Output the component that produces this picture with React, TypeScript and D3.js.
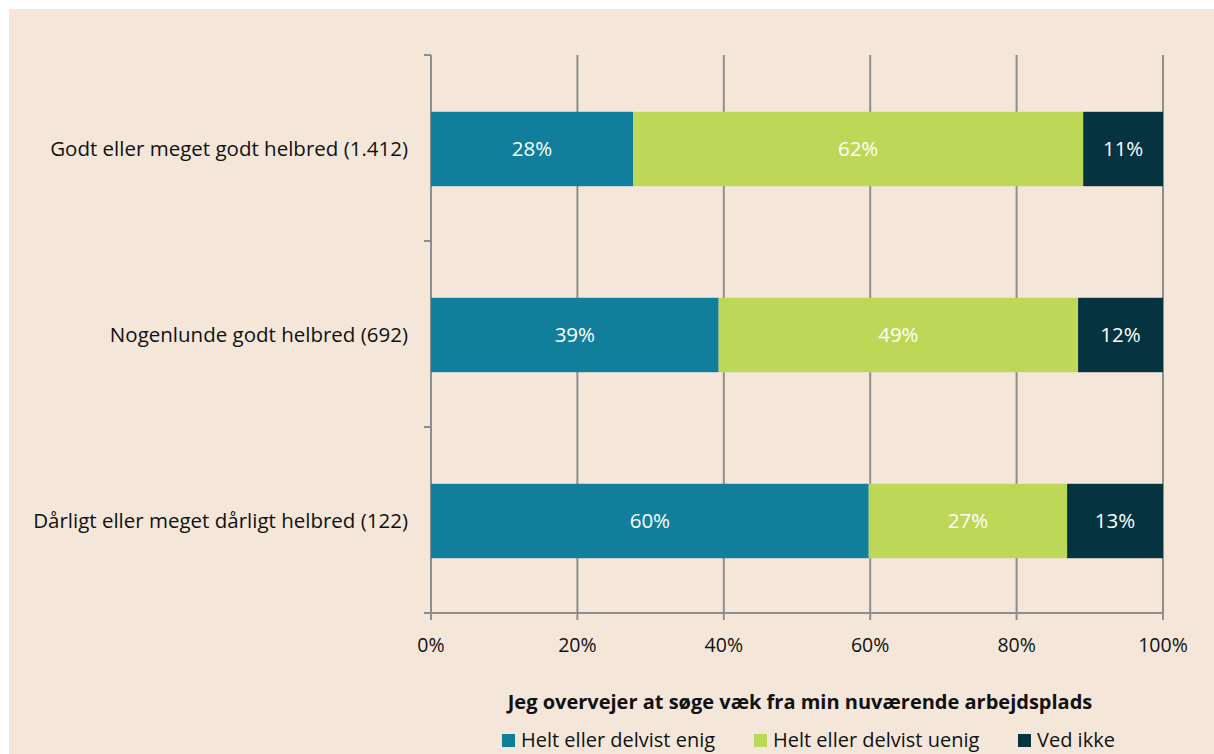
import React from "react";
import * as d3 from "d3";

const categories = [
  "Godt eller meget godt helbred (1.412)",
  "Nogenlunde godt helbred (692)",
  "Dårligt eller meget dårligt helbred (122)",
];
const seriesNames = ["Helt eller delvist enig", "Helt eller delvist uenig", "Ved ikke"];
const enig = [27.6, 39.3, 59.8];
const uenig = [61.5, 49.1, 27.1];
const vedIkke = [10.9, 11.6, 13.1];
const labelsEnig = ["28%", "39%", "60%"];
const labelsUenig = ["62%", "49%", "27%"];
const labelsVed = ["11%", "12%", "13%"];
const xTicks = [0, 20, 40, 60, 80, 100];
const title = "Jeg overvejer at søge væk fra min nuværende arbejdsplads";

const colors = ["#117F9B", "#BDD757", "#063340"];
const FONT = "'Open Sans', 'Noto Sans', sans-serif";

export default function App() {
  const W = 1214, H = 754;
  const x = d3.scaleLinear().domain([0, 100]).range([431, 1163]);
  const y = d3.scaleBand<string>().domain(categories).range([55, 613]).paddingInner(0.6).paddingOuter(0.3);
  const yb = d3.scaleBand<string>().domain(categories).range([55, 613]);
  const series = [enig, uenig, vedIkke];
  const labels = [labelsEnig, labelsUenig, labelsVed];
  const stack = categories.map((_, i) => {
    let acc = 0;
    return series.map((s) => {
      const s0 = acc;
      acc += s[i];
      return [s0, acc];
    });
  });
  const grid = "#8E8E8E";
  const legendX = [502, 754, 1018];
  return (
    <svg width={W} height={H} style={{ position: "absolute", left: 0, top: 0 }} fontFamily={FONT}>
      <rect x={0} y={0} width={W} height={H} fill="#ffffff" />
      <rect x={9} y={9} width={W - 9} height={H - 9} fill="#F4E7DA" />
      {xTicks.map((t) => (
        <g key={t}>
          <line x1={x(t)} x2={x(t)} y1={55} y2={620} stroke={grid} strokeWidth={2} />
          <text x={x(t)} y={652} textAnchor="middle" fontSize={19.5} fill="#111">{t}%</text>
        </g>
      ))}
      <line x1={424} x2={1163} y1={613} y2={613} stroke={grid} strokeWidth={2} />
      {[0, 1, 2, 3].map((i) => {
        const yy = i < 3 ? (yb(categories[i]) as number) : 613;
        return <line key={i} x1={424} x2={431} y1={yy} y2={yy} stroke={grid} strokeWidth={2} />;
      })}
      {categories.map((c, i) => (
        <g key={c}>
          <text x={408} y={(y(c) as number) + y.bandwidth() / 2 + 8} textAnchor="end" fontSize={20.5} fill="#111">{c}</text>
          {stack[i].map(([a, b], j) => (
            <g key={j}>
              <rect x={x(a)} y={(y(c) as number) + 1} width={x(b) - x(a)} height={y.bandwidth()} fill={colors[j]} />
              <text x={(x(a) + x(b)) / 2} y={(y(c) as number) + y.bandwidth() / 2 + 8} textAnchor="middle" fontSize={20.5} fill="#fff">{labels[j][i]}</text>
            </g>
          ))}
        </g>
      ))}
      <text x={800} y={709} textAnchor="middle" fontSize={20} fontWeight="bold" fill="#111">{title}</text>
      {seriesNames.map((n, i) => (
        <g key={n}>
          <rect x={legendX[i]} y={734} width={13} height={13} fill={colors[i]} />
          <text x={legendX[i] + 19} y={747} fontSize={20} fill="#111">{n}</text>
        </g>
      ))}
    </svg>
  );
}
